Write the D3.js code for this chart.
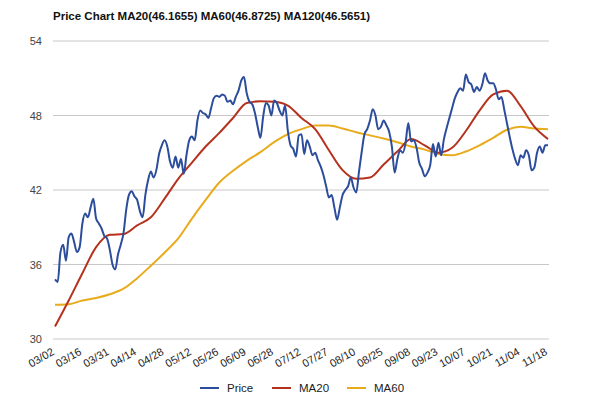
<html>
    <head>
        <style>
            body { margin: 0; background: #fff; }
            text { font-family: "Liberation Sans", Arial, sans-serif; }
        </style>
    </head>
    <body>
        <script src="https://d3js.org/d3.v7.min.js"></script>

        <div id="my_dataviz"></div>

        <script>

            var title = "Price Chart MA20(46.1655) MA60(46.8725) MA120(46.5651)";

            // x tick labels, one every 10 trading days
            var dateLabels = ["03/02", "03/16", "03/31", "04/14", "04/28", "05/12", "05/26", "06/09", "06/28",
                              "07/12", "07/27", "08/10", "08/25", "09/08", "09/23", "10/07", "10/21", "11/04", "11/18"];
            var yTicks = [30, 36, 42, 48, 54];

            // daily close, 181 trading days
            var price = [
              34.8, 34.6, 37.0, 37.6, 36.3, 38.2, 38.5, 37.8, 37.0, 37.4,
              39.3, 40.1, 39.8, 40.6, 41.3, 39.7, 39.3, 38.9, 38.3, 38.1,
              37.2, 36.0, 35.6, 36.8, 37.6, 38.5, 40.4, 41.6, 41.9, 41.5,
              41.2, 40.3, 39.8, 41.6, 42.8, 43.5, 43.0, 43.6, 44.9, 45.6,
              46.0, 45.5, 44.3, 43.8, 44.7, 43.8, 44.5, 43.3, 44.8, 46.0,
              46.3, 46.0, 47.6, 48.4, 48.2, 48.1, 47.8, 48.6, 49.4, 49.6,
              49.5, 49.7, 49.6, 49.1, 49.2, 48.9, 49.5, 50.0, 50.8, 51.1,
              49.8, 49.1, 48.9, 48.2, 47.1, 46.2, 47.9, 49.0, 48.8, 48.0,
              49.2, 49.0, 48.4, 48.0, 48.8, 46.8, 45.6, 45.3, 44.7, 46.4,
              46.5, 44.9, 46.0, 45.5, 44.8, 45.0, 44.4, 43.9, 43.2, 42.3,
              41.4, 41.6, 40.6, 39.6, 40.6, 41.6, 42.0, 42.3, 43.0, 42.2,
              41.8, 43.5, 45.1, 46.5, 46.9, 47.6, 48.5, 48.0, 46.9, 47.1,
              47.6, 47.2, 46.7, 45.5, 43.4, 44.5, 45.2, 45.0, 45.8, 47.4,
              45.9, 46.0, 45.4, 44.2, 43.7, 43.1, 43.4, 44.0, 45.7, 44.7,
              45.8, 44.8, 46.1, 47.0, 47.8, 48.6, 49.4, 49.9, 50.2, 50.0,
              51.3, 50.7, 50.5, 49.9, 50.3, 50.0, 50.5, 51.4, 50.8, 50.6,
              50.6, 50.1, 49.3, 49.5, 48.5, 47.4, 46.3, 45.3, 44.5, 44.0,
              44.8, 44.6, 45.2, 44.8, 43.6, 43.8, 45.0, 45.5, 45.0, 45.6,
              45.6
            ];

            // moving averages read every 5 trading days (day 0, 5, 10 ... 180)
            var ma20 = [31.0, 33.1, 35.3, 37.4, 38.4, 38.45, 39.15, 39.8, 41.3, 42.9,
                        44.2, 45.5, 46.6, 47.8, 49.0, 49.15, 49.1, 48.8, 47.8, 46.9,
                        45.2, 43.6, 42.9, 43.0, 44.05, 45.1, 46.1, 45.6, 45.0, 45.4,
                        46.75, 48.4, 49.7, 50.0, 48.75, 47.1, 46.1];
            var ma60 = [32.75, 32.8, 33.1, 33.3, 33.6, 34.05, 34.9, 35.9, 36.95, 38.1,
                        39.7, 41.2, 42.6, 43.55, 44.35, 45.05, 45.85, 46.5, 46.9, 47.2,
                        47.2, 46.95, 46.65, 46.4, 46.15, 45.85, 45.5, 45.25, 44.9, 44.8,
                        45.1, 45.6, 46.2, 46.85, 47.1, 46.95, 46.9];

            var colors = {Price: "#2c4d9c", MA20: "#b5321e", MA60: "#e8ab1c"};

            var W = 600, H = 399;
            var svg = d3.select("#my_dataviz")
              .append("svg")
                .attr("width", W)
                .attr("height", H);

            var x = d3.scaleLinear().domain([0, price.length - 1]).range([55, 548]);
            var y = d3.scaleLinear().domain([30, 54]).range([339, 41]);

            // title
            svg.append("text")
              .attr("x", 53).attr("y", 20)
              .attr("font-size", 11.5).attr("font-weight", "bold")
              .attr("fill", "#111")
              .text(title);

            // gridlines + y labels
            svg.append("g").selectAll("line")
              .data(yTicks).enter().append("line")
                .attr("x1", 53).attr("x2", 549)
                .attr("y1", function(d) { return y(d); })
                .attr("y2", function(d) { return y(d); })
                .attr("stroke", "#c8c8c8").attr("stroke-width", 1);
            svg.append("g").selectAll("text")
              .data(yTicks).enter().append("text")
                .attr("x", 42).attr("y", function(d) { return y(d) + 4; })
                .attr("text-anchor", "end")
                .attr("font-size", 11).attr("fill", "#444")
                .text(function(d) { return d; });

            // x labels, slanted
            svg.append("g").selectAll("text")
              .data(dateLabels).enter().append("text")
                .attr("transform", function(d, i) { return "translate(" + x(i * 10) + ",354)rotate(-30)"; })
                .attr("text-anchor", "end")
                .attr("font-size", 11).attr("fill", "#222")
                .text(function(d) { return d; });

            // lines
            var linePrice = d3.line()
              .x(function(d, i) { return x(i); })
              .y(function(d) { return y(d); })
              .curve(d3.curveMonotoneX);
            var lineMA = d3.line()
              .x(function(d, i) { return x(i * 5); })
              .y(function(d) { return y(d); })
              .curve(d3.curveMonotoneX);

            svg.append("path").datum(ma60)
              .attr("d", lineMA).attr("fill", "none")
              .attr("stroke", colors.MA60).attr("stroke-width", 2);
            svg.append("path").datum(ma20)
              .attr("d", lineMA).attr("fill", "none")
              .attr("stroke", colors.MA20).attr("stroke-width", 2);
            svg.append("path").datum(price)
              .attr("d", linePrice).attr("fill", "none")
              .attr("stroke", colors.Price).attr("stroke-width", 2);

            // legend
            var legend = [
              {name: "Price", x: 200},
              {name: "MA20", x: 272},
              {name: "MA60", x: 347}
            ];
            var lg = svg.append("g").selectAll("g")
              .data(legend).enter().append("g")
                .attr("transform", function(d) { return "translate(" + d.x + ",388)"; });
            lg.append("line")
              .attr("x1", 0).attr("x2", 19).attr("y1", 0).attr("y2", 0)
              .attr("stroke", function(d) { return colors[d.name]; })
              .attr("stroke-width", 2);
            lg.append("text")
              .attr("x", 27).attr("y", 4)
              .attr("font-size", 11.5).attr("fill", "#222")
              .text(function(d) { return d.name; });

        </script>
    </body>
</html>
